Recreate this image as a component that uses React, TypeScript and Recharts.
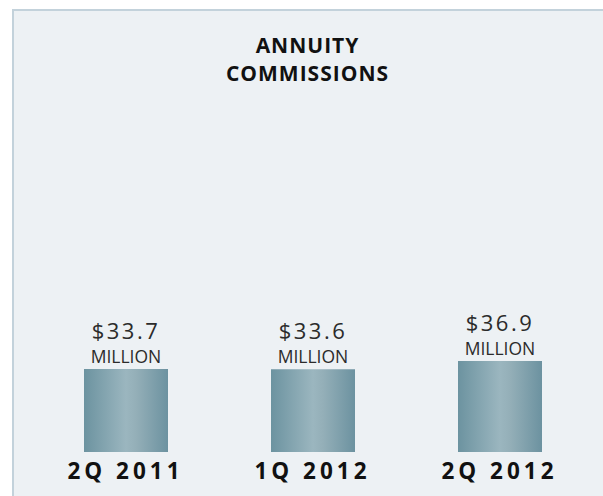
import { Bar, BarChart, LabelList, XAxis, YAxis } from "recharts";

const quarters = ["2Q 2011", "1Q 2012", "2Q 2012"];
const commissions = [33.7, 33.6, 36.9];
const unitLabel = "MILLION";

const data = quarters.map((q, i) => ({ quarter: q, value: commissions[i] }));

const FONT = "'Open Sans', 'Liberation Sans', sans-serif";

function ValueLabel(props: any) {
  const { x, y, width, value } = props;
  const cx = x + width / 2;
  return (
    <g>
      <text x={cx} y={y - 30} textAnchor="middle" fontFamily={FONT} fontSize={22} fill="#2b2b2b" letterSpacing={2.5}>
        {`$${Number(value).toFixed(1)}`}
      </text>
      <text x={cx} y={y - 6} textAnchor="middle" fontFamily={FONT} fontSize={17.5} fill="#2b2b2b">
        {unitLabel}
      </text>
    </g>
  );
}

function QuarterTick(props: any) {
  const { x, y, payload } = props;
  return (
    <text x={x} y={y + 19} textAnchor="middle" fontFamily={FONT} fontSize={22.5} fontWeight={700} fill="#111" letterSpacing={4}>
      {payload.value}
    </text>
  );
}

export default function App() {
  return (
    <div style={{ position: "fixed", left: 0, top: 0, width: 603, height: 496, background: "#fff", overflow: "hidden" }}>
      <div
        style={{
          position: "absolute",
          left: 12,
          top: 9,
          right: -4,
          bottom: -4,
          background: "#edf1f4",
          borderLeft: "2px solid #c3d2db",
          borderTop: "2px solid #c3d2db",
        }}
      />
      <div
        style={{
          position: "absolute",
          left: 12,
          width: 591,
          top: 31,
          textAlign: "center",
          fontFamily: FONT,
          fontWeight: 700,
          fontSize: 21,
          lineHeight: "28px",
          letterSpacing: 1,
          color: "#111",
        }}
      >
        ANNUITY
        <br />
        COMMISSIONS
      </div>
      <div style={{ position: "absolute", left: 0, top: 0 }}>
        <BarChart width={603} height={496} data={data} margin={{ top: 107, right: 10, bottom: 0, left: 32 }} barSize={84}>
          <defs>
            <linearGradient id="barShade" x1="0" y1="0" x2="1" y2="0">
              <stop offset="0%" stopColor="#6c93a0" />
              <stop offset="50%" stopColor="#9bb6bf" />
              <stop offset="62%" stopColor="#94afb8" />
              <stop offset="100%" stopColor="#6c92a0" />
            </linearGradient>
          </defs>
          <XAxis dataKey="quarter" axisLine={false} tickLine={false} tick={<QuarterTick />} height={44} interval={0} />
          <YAxis hide domain={[0, 140]} />
          <Bar dataKey="value" fill="url(#barShade)" isAnimationActive={false}>
            <LabelList dataKey="value" content={<ValueLabel />} />
          </Bar>
        </BarChart>
      </div>
    </div>
  );
}
